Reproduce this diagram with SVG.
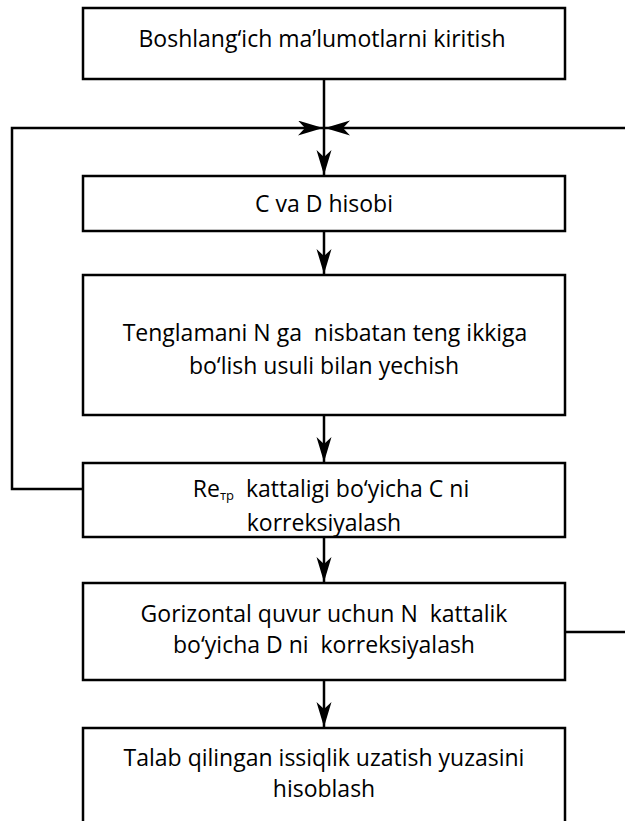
<svg xmlns="http://www.w3.org/2000/svg" width="625" height="821" viewBox="0 0 625 821">
<style>
.box{fill:#fff;stroke:#000;stroke-width:2.5}
.t{font-family:"Open Sans","Liberation Sans",Arial,sans-serif;font-size:23px;fill:#000;text-anchor:middle}
.c{fill:none;stroke:#000;stroke-width:2.5}
</style>
<defs>
<marker id="ah" markerUnits="userSpaceOnUse" markerWidth="26" markerHeight="16" refX="25" refY="7.5" orient="auto" viewBox="0 0 26 16">
<path d="M0,0 L25,7.5 L0,15 L7,7.5 Z" fill="#000"/>
</marker>
</defs>
<rect width="625" height="821" fill="#fff"/>
<g id="connectors">
<path class="c" d="M324,79 V175" marker-end="url(#ah)"/>
<path class="c" d="M83,489 H12 V128 H323" marker-end="url(#ah)"/>
<path class="c" d="M565,632 H640 V128 H325" marker-end="url(#ah)"/>
<path class="c" d="M324,231 V274" marker-end="url(#ah)"/>
<path class="c" d="M324,415 V462" marker-end="url(#ah)"/>
<path class="c" d="M324,537 V582" marker-end="url(#ah)"/>
<path class="c" d="M324,680 V727" marker-end="url(#ah)"/>
</g>
<g id="n1"><rect class="box" x="83" y="8" width="482" height="71"/><text class="t" x="322" y="47">Boshlang‘ich ma’lumotlarni kiritish</text></g>
<g id="n2"><rect class="box" x="83" y="176" width="482" height="55"/><text class="t" x="324" y="212">C va D hisobi</text></g>
<g id="n3"><rect class="box" x="83" y="275" width="482" height="140"/><text class="t" x="325" y="341" xml:space="preserve">Tenglamani N ga  nisbatan teng ikkiga</text><text class="t" x="324" y="374">bo‘lish usuli bilan yechish</text></g>
<g id="n4"><rect class="box" x="83" y="463" width="482" height="74"/><text class="t" x="331" y="497" xml:space="preserve">Re<tspan font-size="13" dy="3">тр</tspan><tspan dy="-3">  kattaligi bo‘yicha C ni</tspan></text><text class="t" x="324" y="531">korreksiyalash</text></g>
<g id="n5"><rect class="box" x="83" y="583" width="482" height="97"/><text class="t" x="324" y="622" xml:space="preserve">Gorizontal quvur uchun N  kattalik</text><text class="t" x="324" y="653" xml:space="preserve">bo‘yicha D ni  korreksiyalash</text></g>
<g id="n6"><rect class="box" x="83" y="728" width="482" height="110"/><text class="t" x="324" y="766">Talab qilingan issiqlik uzatish yuzasini</text><text class="t" x="324" y="797">hisoblash</text></g>
</svg>
